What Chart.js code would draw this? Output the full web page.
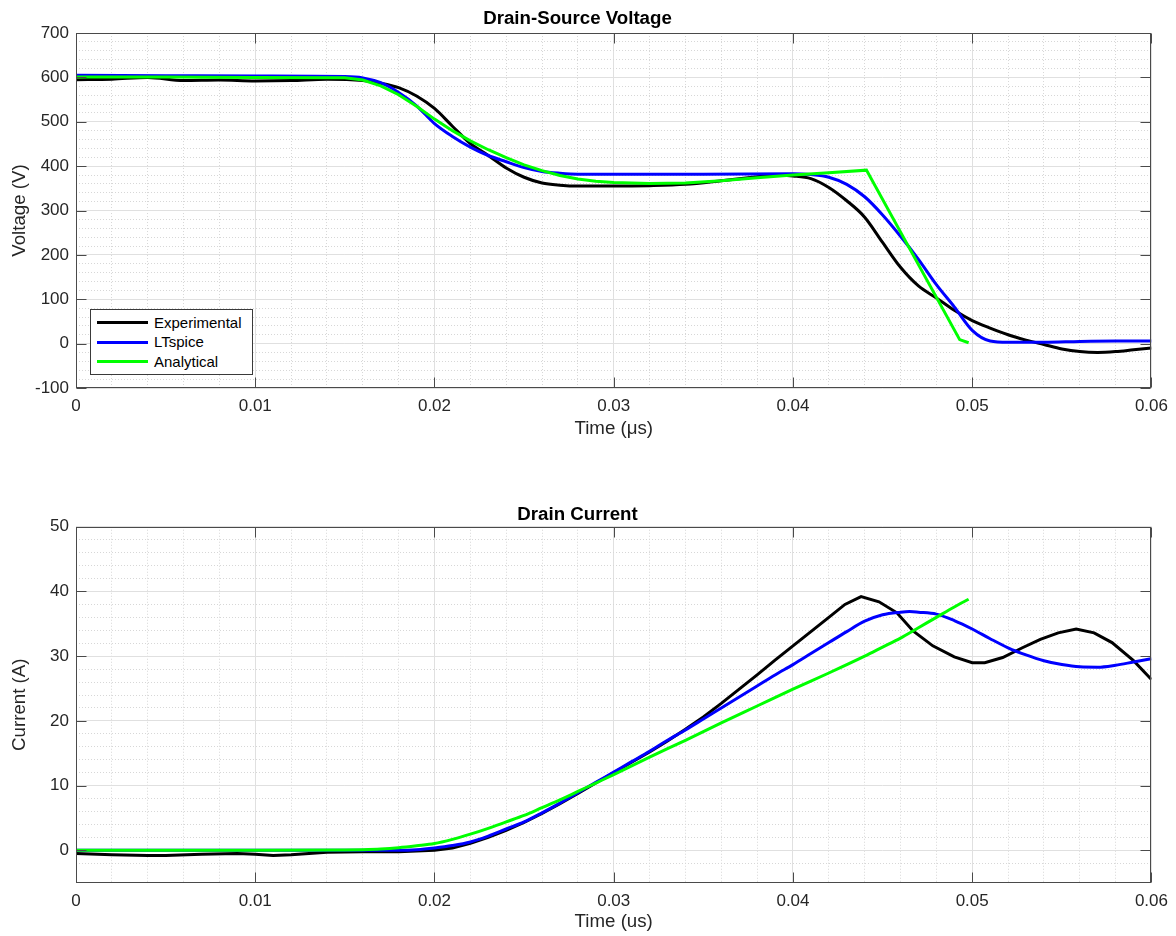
<!DOCTYPE html>
<html>
<head>
<meta charset="utf-8">
<script src="https://cdn.jsdelivr.net/npm/chart.js@4.4.1/dist/chart.umd.min.js"></script>
<style>
html,body{margin:0;padding:0;background:#fff;}
#wrap{position:relative;width:1176px;height:936px;overflow:hidden;}
.pane{position:absolute;left:0;width:1176px;height:468px;}
#legend{position:absolute;left:90px;top:309px;width:161px;height:64px;border:1px solid #3a3a3a;background:#fff;
  font-family:"Liberation Sans",Arial,Helvetica,sans-serif;font-size:15px;color:#000;}
#legend .sw{position:absolute;left:6px;width:51px;height:3px;}
#legend .tx{position:absolute;left:63px;height:18px;line-height:18px;white-space:nowrap;}
</style>
</head>
<body>
<div id="wrap">
  <div class="pane" style="top:0"><canvas id="c1" width="1176" height="468"></canvas></div>
  <div class="pane" style="top:468px"><canvas id="c2" width="1176" height="468"></canvas></div>
  <div id="legend"></div>
</div>
<script>
// ---------- data ----------
const seriesNames  = ['Experimental', 'LTspice', 'Analytical'];
const seriesColors = ['#000000', '#0000ff', '#00ff00'];

const topTitle = 'Drain-Source Voltage';
const botTitle = 'Drain Current';
const topXLabel = 'Time (\u03bcs)';
const botXLabel = 'Time (us)';
const topYLabel = 'Voltage (V)';
const botYLabel = 'Current (A)';

// Drain-source voltage (V)
const vExpT = [0,0.002,0.004,0.006,0.008,0.010,0.012,0.014,0.016,0.017,0.018,0.019,0.020,0.021,0.022,0.023,0.024,0.025,0.026,0.027,0.028,0.030,0.032,0.034,0.036,0.038,0.039,0.040,0.041,0.042,0.043,0.044,0.045,0.046,0.047,0.048,0.049,0.050,0.051,0.052,0.053,0.054,0.055,0.056,0.057,0.058,0.059,0.060];
const vExp  = [595,596,600,593,594,592,593,596,593,587,577,558,530,490,451,424,396,375,362,357,355,355,356,359,367,376,380,378,372,352,322,285,228,172,130,103,75,52,35,20,8,-2,-12,-18,-20,-18,-14,-10];

const vSimT = [0,0.005,0.010,0.015,0.016,0.017,0.018,0.019,0.020,0.021,0.022,0.023,0.024,0.025,0.026,0.027,0.028,0.030,0.035,0.040,0.041,0.042,0.043,0.044,0.045,0.046,0.047,0.048,0.049,0.050,0.051,0.052,0.054,0.056,0.058,0.060];
const vSim  = [605,604,603,602,599,588,566,536,496,467,443,424,410,397,388,384,382,382,382,383,381,375,359,331,290,242,190,133,83,30,6,3,3,5,6,6];

const vAnaT = [0,0.005,0.010,0.015,0.016,0.017,0.018,0.019,0.020,0.021,0.022,0.023,0.024,0.025,0.026,0.027,0.028,0.029,0.030,0.032,0.034,0.036,0.038,0.040,0.042,0.0441,0.0493,0.0498];
const vAna  = [601,601,600,599,594,581,561,535,506,480,457,437,419,403,390,379,371,366,363,361,362,367,374,380,385,391,9,2];

// Drain current (A)
const iExpT = [0,0.002,0.004,0.005,0.007,0.009,0.010,0.011,0.012,0.014,0.016,0.018,0.019,0.020,0.021,0.022,0.023,0.024,0.025,0.026,0.027,0.028,0.029,0.030,0.031,0.032,0.033,0.034,0.035,0.036,0.037,0.038,0.039,0.040,0.041,0.042,0.0429,0.0438,0.0448,0.0458,0.0467,0.0478,0.049,0.050,0.0507,0.0517,0.0528,0.0538,0.0548,0.0558,0.0568,0.0578,0.059,0.060];
const iExp  = [-0.5,-0.7,-0.8,-0.8,-0.6,-0.5,-0.6,-0.8,-0.7,-0.3,-0.2,-0.2,-0.1,0.0,0.35,1.1,2.0,3.1,4.3,5.7,7.2,8.8,10.4,12.0,13.6,15.2,16.9,18.7,20.6,22.7,24.9,27.1,29.4,31.6,33.8,36.0,38.0,39.2,38.4,36.7,33.9,31.6,29.9,29.0,29.0,29.8,31.3,32.6,33.6,34.2,33.6,32.1,29.3,26.4];

const iSimT = [0,0.010,0.018,0.019,0.020,0.021,0.022,0.023,0.024,0.025,0.026,0.027,0.028,0.029,0.030,0.031,0.032,0.033,0.034,0.035,0.036,0.037,0.038,0.039,0.040,0.041,0.042,0.043,0.044,0.045,0.046,0.0465,0.047,0.048,0.049,0.050,0.051,0.052,0.053,0.054,0.055,0.056,0.057,0.058,0.059,0.060];
const iSim  = [0,0,0,0.1,0.37,0.75,1.3,2.2,3.3,4.4,5.8,7.3,8.9,10.5,12.1,13.7,15.3,17.0,18.6,20.3,22.0,23.7,25.4,27.1,28.7,30.4,32.1,33.8,35.4,36.4,36.8,36.9,36.8,36.5,35.5,34.2,32.7,31.3,30.2,29.3,28.7,28.35,28.3,28.6,29.1,29.6];

const iAnaT = [0,0.010,0.015,0.016,0.017,0.018,0.019,0.020,0.021,0.022,0.023,0.024,0.025,0.026,0.027,0.028,0.029,0.030,0.032,0.034,0.036,0.038,0.040,0.042,0.044,0.045,0.046,0.047,0.048,0.049,0.0498];
const iAna  = [0,0,0.05,0.1,0.2,0.4,0.7,1.05,1.7,2.5,3.4,4.4,5.4,6.6,7.8,9.1,10.4,11.7,14.4,17.0,19.7,22.3,24.9,27.4,30.0,31.4,32.8,34.4,36.0,37.6,38.8];

// axis ranges / tick steps
const xRange = [0, 0.06];   const xMajorStep = 0.01;  const xMinorStep = 0.002;
const vRange = [-100, 700]; const vMajorStep = 100;   const vMinorStep = 20;
const iRange = [-5, 50];    const iMajorStep = 10;    const iMinorStep = 2;

// ---------- helpers ----------
const FONT = '"Liberation Sans", Arial, Helvetica, sans-serif';
const TXT = '#262626';
function isMajor(v, step){ return Math.abs(v/step - Math.round(v/step)) < 1e-6; }
function fmt(v, step){ const r = Math.round(v/step)*step; return String(parseFloat(r.toFixed(6))); }
function pts(t, y){ return t.map((x,i)=>({x:x, y:y[i]})); }

function gridColor(step){ return c => (c.tick && isMajor(c.tick.value, step)) ? '#e0e0e0' : '#d7d7d7'; }
function gridDash(step){ return c => (c.tick && !isMajor(c.tick.value, step)) ? [1,2] : []; }

const framePlugin = {
  id: 'frame',
  afterDraw(chart, args, opts){
    const {ctx, chartArea:a, scales} = chart;
    const L = Math.round(a.left)+0.5, R = Math.round(a.right)-0.5, T = Math.round(a.top)+0.5, B = Math.round(a.bottom)-0.5;
    ctx.save();
    ctx.strokeStyle = '#4a4a4a'; ctx.lineWidth = 1;
    ctx.strokeRect(L, T, R-L, B-T);
    ctx.beginPath();
    scales.x.ticks.forEach(t => {
      if (!isMajor(t.value, opts.xStep)) return;
      const p = Math.round(scales.x.getPixelForValue(t.value))+0.5;
      ctx.moveTo(p, B); ctx.lineTo(p, B-10);
      ctx.moveTo(p, T); ctx.lineTo(p, T+10);
    });
    scales.y.ticks.forEach(t => {
      if (!isMajor(t.value, opts.yStep)) return;
      const p = Math.round(scales.y.getPixelForValue(t.value))+0.5;
      ctx.moveTo(L, p); ctx.lineTo(L+10, p);
      ctx.moveTo(R, p); ctx.lineTo(R-10, p);
    });
    ctx.stroke();
    ctx.restore();
  }
};

function datasets(tArrs, yArrs, smooth){
  return seriesNames.map((n,i)=>({
    label: n,
    data: pts(tArrs[i], yArrs[i]),
    borderColor: seriesColors[i],
    backgroundColor: seriesColors[i],
    borderWidth: 3,
    pointRadius: 0,
    fill: false,
    order: 3-i,
    cubicInterpolationMode: smooth[i] ? 'monotone' : 'default',
    tension: smooth[i] ? 0.4 : 0
  }));
}

function makeChart(id, cfg){
  return new Chart(document.getElementById(id), {
    type: 'line',
    data: { datasets: datasets(cfg.t, cfg.y, cfg.smooth) },
    plugins: [framePlugin],
    options: {
      responsive: false, animation: false, devicePixelRatio: 1,
      layout: { padding: { left: 0, right: 21, top: 0, bottom: 0 } },
      plugins: {
        legend: { display: false },
        tooltip: { enabled: false },
        title: { display: true, text: cfg.title, color: '#000',
                 font: { family: FONT, size: 18.7, weight: 'bold' },
                 padding: cfg.titlePad },
        frame: { xStep: xMajorStep, yStep: cfg.yMajor }
      },
      scales: {
        x: {
          type: 'linear', min: xRange[0], max: xRange[1],
          afterFit: s => { s.height = cfg.xHeight; },
          ticks: { stepSize: xMinorStep, autoSkip: false, maxRotation: 0, minRotation: 0, padding: 8,
                   color: TXT, font: { family: FONT, size: 17 },
                   callback: v => isMajor(v, xMajorStep) ? fmt(v, xMajorStep) : '' },
          grid: { drawTicks: false, lineWidth: 1, color: gridColor(xMajorStep) },
          border: { display: false, dash: gridDash(xMajorStep) },
          title: { display: true, text: cfg.xLabel, color: TXT, font: { family: FONT, size: 18.7 },
                   padding: { top: 0, bottom: cfg.xTitleBottom } }
        },
        y: {
          type: 'linear', min: cfg.yRange[0], max: cfg.yRange[1],
          afterFit: s => { s.width = 76; },
          ticks: { stepSize: cfg.yMinor, autoSkip: false, padding: 7,
                   color: TXT, font: { family: FONT, size: 17 },
                   callback: v => isMajor(v, cfg.yMajor) ? fmt(v, cfg.yMajor) : '' },
          grid: { drawTicks: false, lineWidth: 1, color: gridColor(cfg.yMajor) },
          border: { display: false, dash: gridDash(cfg.yMajor) },
          title: { display: true, text: cfg.yLabel, color: TXT, font: { family: FONT, size: 18.7 },
                   padding: { top: 8.4, bottom: 0 } }
        }
      }
    }
  });
}

makeChart('c1', {
  t: [vExpT, vSimT, vAnaT], y: [vExp, vSim, vAna], smooth: [true, true, false],
  title: topTitle, titlePad: { top: 8, bottom: 2.6 },
  xLabel: topXLabel, yLabel: topYLabel, xHeight: 80, xTitleBottom: 27.8,
  yRange: vRange, yMajor: vMajorStep, yMinor: vMinorStep
});
makeChart('c2', {
  t: [iExpT, iSimT, iAnaT], y: [iExp, iSim, iAna], smooth: [false, true, true],
  title: botTitle, titlePad: { top: 35.3, bottom: 1 },
  xLabel: botXLabel, yLabel: botYLabel, xHeight: 53.3, xTitleBottom: 2.8,
  yRange: iRange, yMajor: iMajorStep, yMinor: iMinorStep
});

// HTML legend built from the series arrays
const lg = document.getElementById('legend');
seriesNames.forEach((n,i)=>{
  const cy = 12.5 + i*19.5;
  const sw = document.createElement('div'); sw.className='sw';
  sw.style.top = (cy-1.5)+'px'; sw.style.background = seriesColors[i];
  const tx = document.createElement('div'); tx.className='tx';
  tx.style.top = (cy-9)+'px'; tx.textContent = n;
  lg.appendChild(sw); lg.appendChild(tx);
});
</script>
</body>
</html>
